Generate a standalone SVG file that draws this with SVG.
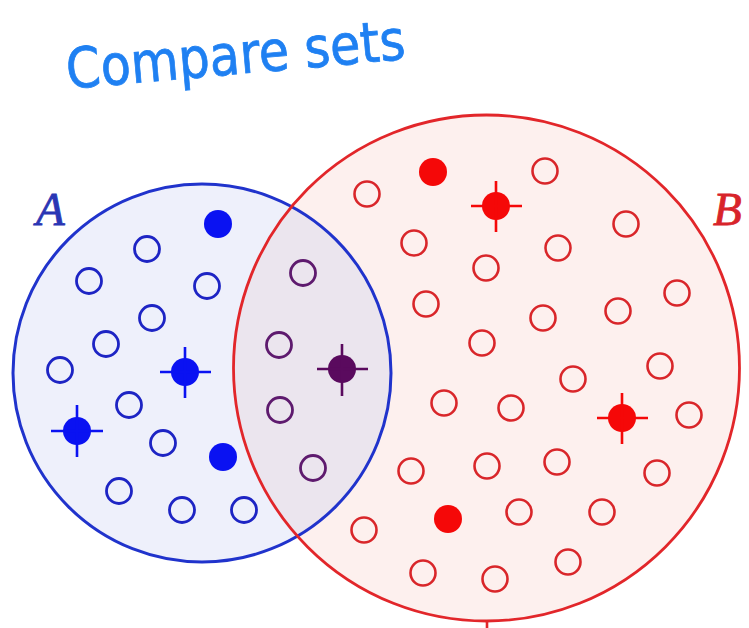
<svg xmlns="http://www.w3.org/2000/svg" xmlns:xlink="http://www.w3.org/1999/xlink" width="749" height="628" viewBox="0 0 749 628">
<style>
.ob{fill:none;stroke:#1d24c4;stroke-width:2.8}
.or{fill:none;stroke:#d9262a;stroke-width:2.6}
.op{fill:none;stroke:#5e1a6e;stroke-width:2.8}
.fb{fill:#0a12f2}
.fr{fill:#f50808}
.fp{fill:#5a0a5e}
.xb{stroke:#0a12f2;stroke-width:2.6}
.xr{stroke:#f50808;stroke-width:2.6}
.xp{stroke:#5a0a5e;stroke-width:2.6}
.lbl{font-family:"Liberation Serif",serif;font-style:italic;font-size:47px;stroke-width:0.8}
</style>
<defs>
<clipPath id="clipA"><circle cx="202" cy="373" r="189"/></clipPath>
</defs>
<rect width="749" height="628" fill="#ffffff"/>
<g id="title">
<text x="66" y="74" font-family="'DejaVu Sans',sans-serif" font-size="56" fill="#1f80f2" stroke="#1f80f2" stroke-width="0.8" textLength="340" lengthAdjust="spacingAndGlyphs" transform="rotate(-5 236 60)">Compare sets</text>
</g>
<g id="setA-fill"><circle cx="202" cy="373" r="189" fill="#eef0fb"/></g>
<g id="setB-fill"><circle cx="486.5" cy="368" r="253" fill="#fdf0ee"/></g>
<g id="overlap-fill" clip-path="url(#clipA)"><circle cx="486.5" cy="368" r="253" fill="#ebe5ee"/></g>
<g id="setA">
<circle cx="202" cy="373" r="189" fill="none" stroke="#2033cc" stroke-width="3"/>
<text class="lbl" x="36" y="225" fill="#2a36b4" stroke="#2a36b4">A</text>
</g>
<g id="setB">
<circle cx="486.5" cy="368" r="253" fill="none" stroke="#e2262a" stroke-width="2.8"/>
<line x1="487" y1="620" x2="487" y2="628" stroke="#e2262a" stroke-width="2.6"/>
<text class="lbl" x="713" y="225" fill="#d8242a" stroke="#d8242a">B</text>
</g>
<g id="elements-A">
<circle class="ob" cx="147" cy="249" r="12.5"/>
<circle class="ob" cx="89" cy="281" r="12.5"/>
<circle class="ob" cx="207" cy="286" r="12.5"/>
<circle class="ob" cx="152" cy="318" r="12.5"/>
<circle class="ob" cx="106" cy="344" r="12.5"/>
<circle class="ob" cx="60" cy="370" r="12.5"/>
<circle class="ob" cx="129" cy="405" r="12.5"/>
<circle class="ob" cx="163" cy="443" r="12.5"/>
<circle class="ob" cx="119" cy="491" r="12.5"/>
<circle class="ob" cx="182" cy="510" r="12.5"/>
<circle class="ob" cx="244" cy="510" r="12.5"/>
<circle class="fb" cx="218" cy="224" r="14"/>
<circle class="fb" cx="223" cy="457" r="14"/>
<g id="A-mark-1"><circle class="fb" cx="185" cy="372" r="14"/><path class="xb" d="M160 372H211M185 347V398"/></g>
<g id="A-mark-2"><circle class="fb" cx="77" cy="431" r="14"/><path class="xb" d="M51 431H103M77 405V457"/></g>
</g>
<g id="elements-AB">
<circle class="op" cx="303" cy="273" r="12.5"/>
<circle class="op" cx="279" cy="345" r="12.5"/>
<circle class="op" cx="280" cy="410" r="12.5"/>
<circle class="op" cx="313" cy="468" r="12.5"/>
<g id="AB-mark"><circle class="fp" cx="342" cy="369" r="14"/><path class="xp" d="M317 369H368M342 344V396"/></g>
</g>
<g id="elements-B">
<circle class="or" cx="367" cy="194" r="12.5"/>
<circle class="or" cx="545" cy="171" r="12.5"/>
<circle class="or" cx="414" cy="243" r="12.5"/>
<circle class="or" cx="558" cy="248" r="12.5"/>
<circle class="or" cx="486" cy="268" r="12.5"/>
<circle class="or" cx="626" cy="224" r="12.5"/>
<circle class="or" cx="677" cy="293" r="12.5"/>
<circle class="or" cx="426" cy="304" r="12.5"/>
<circle class="or" cx="543" cy="318" r="12.5"/>
<circle class="or" cx="618" cy="311" r="12.5"/>
<circle class="or" cx="482" cy="343" r="12.5"/>
<circle class="or" cx="660" cy="366" r="12.5"/>
<circle class="or" cx="573" cy="379" r="12.5"/>
<circle class="or" cx="444" cy="403" r="12.5"/>
<circle class="or" cx="511" cy="408" r="12.5"/>
<circle class="or" cx="689" cy="415" r="12.5"/>
<circle class="or" cx="411" cy="471" r="12.5"/>
<circle class="or" cx="487" cy="466" r="12.5"/>
<circle class="or" cx="557" cy="462" r="12.5"/>
<circle class="or" cx="657" cy="473" r="12.5"/>
<circle class="or" cx="364" cy="530" r="12.5"/>
<circle class="or" cx="519" cy="512" r="12.5"/>
<circle class="or" cx="602" cy="512" r="12.5"/>
<circle class="or" cx="423" cy="573" r="12.5"/>
<circle class="or" cx="495" cy="579" r="12.5"/>
<circle class="or" cx="568" cy="562" r="12.5"/>
<circle class="fr" cx="433" cy="172" r="14"/>
<circle class="fr" cx="448" cy="519" r="14"/>
<g id="B-mark-1"><circle class="fr" cx="496" cy="206" r="14"/><path class="xr" d="M471 206H522M496 181V232"/></g>
<g id="B-mark-2"><circle class="fr" cx="622" cy="418" r="14"/><path class="xr" d="M597 418H648M622 393V444"/></g>
</g>
</svg>
